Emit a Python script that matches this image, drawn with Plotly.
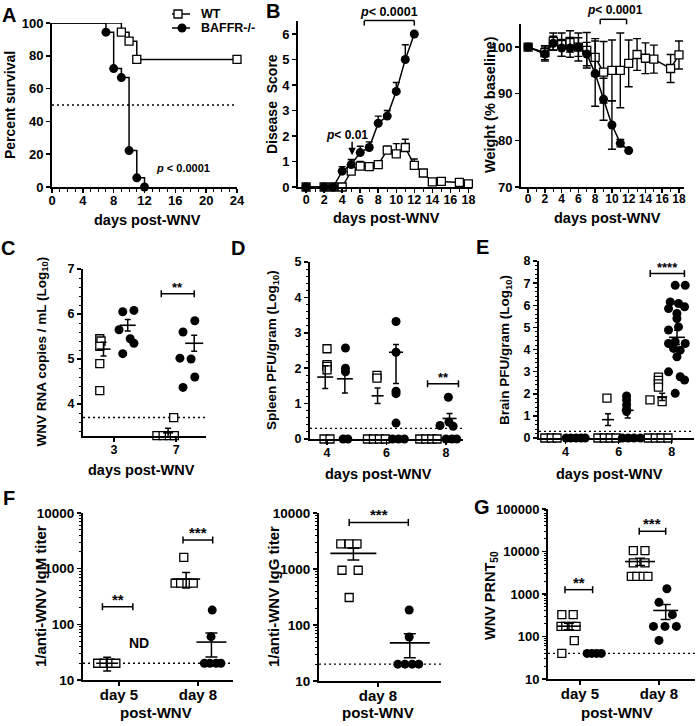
import math
import plotly.graph_objects as go

W, H = 697, 726
FONT = "Liberation Sans"
K = "#000000"

# ---------------- data ----------------
# A: Kaplan-Meier survival
A_wt_days = [0, 9, 10, 11, 24]
A_wt_surv = [100, 94.4, 88.9, 77.8, 77.8]
A_ko_days = [0, 7, 8, 9, 10, 11, 12]
A_ko_surv = [100, 94.4, 72.2, 66.7, 22.2, 5.6, 0]
A_ref = 50

# B: disease score and weight
B_wt_days = [0, 2, 3, 4, 5, 6, 7, 8, 9, 10, 11, 12, 13, 14, 15, 17, 18]
B_wt_score = [0, 0, 0, 0, 0.62, 0.82, 0.80, 0.88, 1.45, 1.30, 1.55, 0.85, 0.55, 0.20, 0.22, 0.18, 0.12]
B_wt_score_err = [0, 0, 0, 0, 0.30, 0.18, 0.15, 0.10, 0.15, 0.40, 0.32, 0.25, 0.10, 0.05, 0.05, 0.05, 0.05]
B_ko_days = [0, 2, 3, 4, 5, 6, 7, 8, 9, 10, 11, 12]
B_ko_score = [0, 0, 0, 0.62, 0.88, 1.35, 1.55, 2.50, 2.78, 3.75, 5.00, 6.00]
B_ko_score_err = [0, 0, 0, 0.18, 0.20, 0.25, 0.22, 0.28, 0.22, 0.35, 0.58, 0]
B_wt_weight = [100, 98.8, 101.2, 100.5, 101.2, 100.0, 99.3, 97.8, 94.6, 95.0, 95.0, 96.5, 98.4, 97.6, 97.4, 95.4, 98.3]
B_wt_weight_err = [0.5, 1.5, 1.8, 2.5, 2.3, 3.0, 3.8, 4.0, 6.6, 6.5, 8.0, 5.0, 3.4, 3.3, 3.0, 3.0, 3.0]
B_ko_weight = [100, 98.5, 100.8, 99.8, 99.8, 100.0, 98.5, 94.3, 88.8, 83.3, 79.4, 77.8]
B_ko_weight_err = [0.5, 1.5, 1.5, 1.8, 2.0, 2.0, 2.5, 7.0, 4.5, 5.2, 0.8, 0]

# C: serum viral RNA (log10)
C_days = ["3", "7"]
C_wt = [[5.45, 5.40, 5.28, 4.90, 4.30], [3.70, 3.30, 3.30, 3.30, 3.30]]
C_ko = [[6.05, 6.08, 5.65, 5.45, 5.35, 5.12], [5.85, 5.60, 5.02, 5.00, 4.60, 4.37]]
C_wt_mean = [5.22, 3.36]
C_wt_sem = [0.15, 0.10]
C_ko_mean = [5.75, 5.35]
C_ko_sem = [0.13, 0.18]
C_lod = 3.7

# D: spleen PFU (log10)
D_days = ["4", "6", "8"]
D_wt = [[2.55, 2.10, 2.05, 1.95, 0, 0], [1.80, 1.72, 0, 0, 0, 0], [0, 0, 0, 0]]
D_ko = [[2.57, 2.00, 1.90, 0, 0], [3.32, 2.45, 1.35, 1.28, 0.45, 0, 0, 0],
        [1.18, 0.38, 0.48, 0.36, 0, 0, 0]]
D_wt_mean = [1.75, 1.22, None]
D_wt_sem = [0.32, 0.22, 0]
D_ko_mean = [1.70, 2.45, 0.58]
D_ko_sem_up = [0.30, 0.22, 0.14]
D_ko_sem_dn = [0.40, 0.88, 0.14]
D_lod = 0.3

# E: brain PFU (log10)
E_days = ["4", "6", "8"]
E_wt = [[0, 0, 0], [1.80, 0, 0, 0, 0], [2.75, 2.60, 2.45, 2.30, 1.72, 1.64, 0, 0, 0, 0]]
E_ko = [[0, 0, 0, 0, 0], [1.90, 1.72, 1.50, 1.30, 1.20, 0, 0, 0, 0],
        [6.90, 6.90, 6.15, 6.08, 5.85, 5.93, 5.63, 5.40, 4.88, 5.02, 4.27, 4.35, 4.27, 4.05,
         3.97, 3.67, 2.99, 2.77, 2.62, 2.02]]
E_wt_mean = [None, 0.83, 1.86]
E_wt_sem = [0, 0.27, 0.16]
E_ko_mean = [None, 1.25, 4.55]
E_ko_sem = [0, 0.35, 0.32]
E_lod = 0.3

# F: IgM and IgG titers
F_days = ["day 5", "day 8"]
F_igm_wt = [[20, 20, 20, 20], [1600, 550, 550, 550, 550]]
F_igm_ko = [[], [180, 60, 20, 20, 20, 20]]
F_igm_wt_mean = [20, 650]
F_igm_wt_sem = [5.5, 200]
F_igm_ko_mean = [None, 48]
F_igm_ko_sem = [0, 22]
F_igg_days = ["day 8"]
F_igg_wt = [[2800, 2800, 2800, 950, 950, 310]]
F_igg_ko = [[185, 61, 20, 20, 20, 20]]
F_igg_wt_mean = [1900]
F_igg_wt_sem = [450]
F_igg_ko_mean = [48]
F_igg_ko_sem = [22]
F_lod = 20
F_ticks = [10, 100, 1000, 10000]

# G: PRNT50
G_days = ["day 5", "day 8"]
G_wt = [[327, 327, 173, 173, 173, 173, 80, 40], [10500, 10500, 5400, 5400, 2600, 2600, 2600, 2600]]
G_ko = [[40, 40, 40, 40], [1330, 637, 327, 173, 173, 173, 81]]
G_wt_mean = [175, 5800]
G_wt_sem = [30, 1100]
G_ko_mean = [None, 410]
G_ko_sem = [0, 160]
G_lod = 40
G_ticks = [10, 100, 1000, 10000, 100000]

# ---------------- layout (pixel geometry, jitter) ----------------
PANELS = {
    1: dict(px=(52, 237), xr=(0, 24), py=(187, 23), yr=(0, 100)),
    2: dict(px=(298, 472), xr=(-0.9, 18.4), py=(187, 21.25), yr=(0, 6.5)),
    3: dict(px=(521, 684), xr=(-0.85, 18.6), py=(187, 23.7), yr=(70, 105)),
    4: dict(px=(83, 206), xr=(-0.5, 1.48), py=(436, 269), yr=(3.29, 7)),
    5: dict(px=(310, 463), xr=(-0.286, 2.286), py=(439, 262), yr=(0, 5)),
    6: dict(px=(539, 694), xr=(-0.5, 2.42), py=(438, 261), yr=(0, 8)),
    7: dict(px=(83, 233), xr=(-0.456, 1.443), py=(680, 513), yr=(1, 4), log=True),
    8: dict(px=(319, 441), xr=(-0.983, 1.05), py=(681, 513), yr=(1, 4), log=True),
    9: dict(px=(548, 695), xr=(-0.405, 1.456), py=(679, 509), yr=(1, 5), log=True),
}

C_wt_jit = [[-0.23, -0.21, -0.23, -0.23, -0.23], [-0.04, -0.31, -0.21, -0.11, -0.03]]
C_ko_jit = [[0.14, 0.32, 0.08, 0.26, 0.32, 0.14], [0.30, 0.11, 0.06, 0.24, 0.30, 0.11]]
C_pos = dict(wt=[-0.17, -0.13], ko=[0.22, 0.29], hw_wt=[7, 5], hw_ko=[8, 9])

D_wt_jit = [[0, 0, 0, 0, -0.05, 0.05], [-0.16, -0.16, -0.32, -0.22, -0.12, -0.02],
            [-0.44, -0.34, -0.24, -0.15]]
D_ko_jit = [[0.31, 0.31, 0.31, 0.27, 0.35], [0.16, 0.16, 0.16, 0.16, 0.16, 0.10, 0.20, 0.30],
            [0.04, -0.10, 0.05, 0.12, 0.0, 0.10, 0.18]]
D_pos = dict(wt=[-0.03, -0.15, None], ko=[0.30, 0.16, 0.06], hw_wt=[8, 6, 6], hw_ko=[8, 7, 7])

E_wt_jit = [[-0.39, -0.27, -0.16], [-0.22, -0.39, -0.27, -0.16, -0.05],
            [-0.25, -0.25, -0.25, -0.25, -0.41, -0.18, -0.44, -0.31, -0.20, -0.07]]
E_ko_jit = [[0.01, 0.10, 0.20, 0.29, 0.37], [0.15, 0.15, 0.15, 0.15, 0.15, 0.07, 0.18, 0.29, 0.41],
            [0.066, 0.255, -0.028, 0.128, -0.06, 0.242, 0.098, 0.098, -0.06, 0.128, -0.06, 0.066,
             0.255, 0.034, 0.16, 0.098, -0.06, 0.16, 0.242, 0.066]]
E_pos = dict(wt=[None, -0.2, -0.18], ko=[None, 0.17, 0.10], hw_wt=[6, 6, 5], hw_ko=[6, 6, 8])

F_igm_wt_jit = [[-0.27, -0.19, -0.11, -0.04], [-0.18, -0.29, -0.22, -0.14, -0.06]]
F_igm_ko_jit = [[], [0.18, 0.165, 0.08, 0.15, 0.23, 0.29]]
F_igm_pos = dict(wt=[-0.15, -0.15], ko=[None, 0.17], hw_wt=[11, 14], hw_ko=[15, 15])
F_igg_wt_jit = [[-0.62, -0.48, -0.35, -0.60, -0.33, -0.48]]
F_igg_ko_jit = [[0.52, 0.52, 0.33, 0.45, 0.57, 0.68]]
F_igg_pos = dict(wt=[-0.41], ko=[0.53], hw_wt=[23], hw_ko=[20])

G_wt_jit = [[-0.23, -0.086, -0.24, -0.18, -0.11, -0.05, -0.072, -0.23],
            [-0.325, -0.177, -0.325, -0.177, -0.35, -0.28, -0.20, -0.14]]
G_ko_jit = [[0.09, 0.15, 0.21, 0.27], [0.10, 0.0, 0.17, -0.07, 0.076, 0.22, 0.0]]
G_pos = dict(wt=[-0.14, -0.24], ko=[None, 0.085], hw_wt=[12, 15], hw_ko=[12, 12.5])

SQ = dict(symbol="square", size=8, color="white", line=dict(color=K, width=1.3))
CI = dict(symbol="circle", size=9, color=K, line=dict(color=K, width=0))

fig = go.Figure(layout=dict(template="none"))


def names(k):
    return ("x" if k == 1 else f"x{k}", "y" if k == 1 else f"y{k}")


def scale(k):
    p = PANELS[k]
    return (p["px"][1] - p["px"][0]) / (p["xr"][1] - p["xr"][0])


def hpx(k):
    p = PANELS[k]
    return p["py"][0] - p["py"][1]


def xfrac(k, v):
    lo, hi = PANELS[k]["xr"]
    return (v - lo) / (hi - lo)


def yfrac(k, v):
    p = PANELS[k]
    lo, hi = p["yr"]
    if p.get("log"):
        v = math.log10(v)
    return (v - lo) / (hi - lo)


def add(k, **kw):
    xa, ya = names(k)
    kw.setdefault("showlegend", False)
    kw.setdefault("hoverinfo", "skip")
    fig.add_trace(go.Scatter(xaxis=xa, yaxis=ya, **kw))


def hline(k, yv, dash="2px,3px"):
    lo, hi = PANELS[k]["xr"]
    add(k, x=[lo, hi], y=[yv, yv], mode="lines", line=dict(color=K, width=1.4, dash=dash))


def dots(k, centers, groups, jits, marker):
    for c, vals, jit in zip(centers, groups, jits):
        if not vals:
            continue
        add(k, x=[c + j for j in jit], y=vals, mode="markers", marker=marker, cliponaxis=False)


def mean_sem(k, centers, means, up, dn, pos, hws, cap=3):
    sc = scale(k)
    for c, m, u, d, p, hw in zip(centers, means, up, dn, pos, hws):
        if m is None or p is None:
            continue
        xc = c + p
        w = hw / sc
        add(k, x=[xc - w, xc + w], y=[m, m], mode="lines", line=dict(color=K, width=1.6), cliponaxis=False)
        if u or d:
            add(k, x=[xc], y=[m], mode="markers", marker=dict(size=1, opacity=0),
                error_y=dict(type="data", symmetric=False, array=[u], arrayminus=[d],
                             color=K, thickness=1.5, width=cap))


def bracket(k, x0, x1, yv, text, size=13, cap_px=3.5, text_dy=-3):
    xa, ya = names(k)
    yf = yfrac(k, yv)
    c = cap_px / hpx(k)
    f0, f1 = xfrac(k, x0), xfrac(k, x1)
    ref = dict(xref=f"{xa} domain", yref=f"{ya} domain")
    ln = dict(color=K, width=1.5)
    fig.add_shape(type="line", x0=f0, x1=f1, y0=yf, y1=yf, line=ln, **ref)
    for f in (f0, f1):
        fig.add_shape(type="line", x0=f, x1=f, y0=yf - c, y1=yf + c, line=ln, **ref)
    if text:
        fig.add_annotation(x=(f0 + f1) / 2, y=yf, text=text, showarrow=False, xanchor="center",
                           yanchor="bottom", yshift=text_dy,
                           font=dict(family=FONT, size=size, color=K, weight="bold"), **ref)


def ptext(x, y, text, size, angle=0, xanchor="center"):
    fig.add_annotation(x=x / W, y=1 - y / H, xref="paper", yref="paper", text=text, showarrow=False,
                       textangle=angle, xanchor=xanchor, yanchor="middle",
                       font=dict(family=FONT, size=size, color=K, weight="bold"))


# ---------------- Panel A ----------------
hline(1, A_ref)
add(1, x=A_wt_days, y=A_wt_surv, mode="lines", line=dict(color=K, width=1.5, shape="hv"))
add(1, x=A_ko_days, y=A_ko_surv, mode="lines", line=dict(color=K, width=1.5, shape="hv"))
add(1, x=A_wt_days[1:], y=A_wt_surv[1:], mode="markers", marker=SQ, cliponaxis=False)
add(1, x=A_ko_days[1:], y=A_ko_surv[1:], mode="markers", marker=CI, cliponaxis=False)

# ---------------- Panel B: disease score ----------------
add(2, x=B_wt_days, y=B_wt_score, mode="lines+markers", line=dict(color=K, width=1.5), marker=SQ,
    error_y=dict(type="data", symmetric=False, array=B_wt_score_err, arrayminus=[0] * len(B_wt_score),
                 color=K, thickness=1.4, width=3.5), cliponaxis=False)
add(2, x=B_ko_days, y=B_ko_score, mode="lines+markers", line=dict(color=K, width=1.5), marker=CI,
    error_y=dict(type="data", symmetric=False, array=B_ko_score_err, arrayminus=[0] * len(B_ko_score),
                 color=K, thickness=1.4, width=3.5), cliponaxis=False)

# ---------------- Panel B: weight ----------------
add(3, x=B_wt_days, y=B_wt_weight, mode="lines+markers", line=dict(color=K, width=1.5), marker=SQ,
    error_y=dict(type="data", array=B_wt_weight_err, color=K, thickness=1.4, width=4), cliponaxis=False)
add(3, x=B_ko_days, y=B_ko_weight, mode="lines+markers", line=dict(color=K, width=1.5), marker=CI,
    error_y=dict(type="data", array=B_ko_weight_err, color=K, thickness=1.4, width=4), cliponaxis=False)

# ---------------- Panel C ----------------
cC = list(range(len(C_days)))
hline(4, C_lod)
dots(4, cC, C_wt, C_wt_jit, SQ)
dots(4, cC, C_ko, C_ko_jit, CI)
mean_sem(4, cC, C_wt_mean, C_wt_sem, C_wt_sem, C_pos["wt"], C_pos["hw_wt"])
mean_sem(4, cC, C_ko_mean, C_ko_sem, C_ko_sem, C_pos["ko"], C_pos["hw_ko"])
bracket(4, 1 - 0.24, 1 + 0.29, 6.45, "**")

# ---------------- Panel D ----------------
cD = list(range(len(D_days)))
hline(5, D_lod)
dots(5, cD, D_wt, D_wt_jit, SQ)
dots(5, cD, D_ko, D_ko_jit, CI)
mean_sem(5, cD, D_wt_mean, D_wt_sem, D_wt_sem, D_pos["wt"], D_pos["hw_wt"])
mean_sem(5, cD, D_ko_mean, D_ko_sem_up, D_ko_sem_dn, D_pos["ko"], D_pos["hw_ko"])
bracket(5, 2 - 0.31, 2 + 0.21, 1.56, "**")

# ---------------- Panel E ----------------
cE = list(range(len(E_days)))
hline(6, E_lod)
dots(6, cE, E_wt, E_wt_jit, SQ)
dots(6, cE, E_ko, E_ko_jit, CI)
mean_sem(6, cE, E_wt_mean, E_wt_sem, E_wt_sem, E_pos["wt"], E_pos["hw_wt"])
mean_sem(6, cE, E_ko_mean, E_ko_sem, E_ko_sem, E_pos["ko"], E_pos["hw_ko"])
bracket(6, 2 - 0.405, 2 + 0.24, 7.43, "****")

# ---------------- Panel F: IgM ----------------
cF = list(range(len(F_days)))
hline(7, F_lod)
dots(7, cF, F_igm_wt, F_igm_wt_jit, SQ)
dots(7, cF, F_igm_ko, F_igm_ko_jit, CI)
mean_sem(7, cF, F_igm_wt_mean, F_igm_wt_sem, F_igm_wt_sem, F_igm_pos["wt"], F_igm_pos["hw_wt"], cap=4)
mean_sem(7, cF, F_igm_ko_mean, F_igm_ko_sem, F_igm_ko_sem, F_igm_pos["ko"], F_igm_pos["hw_ko"], cap=6)
bracket(7, -0.21, 0.175, 207, "**", size=15)
bracket(7, 1 - 0.19, 1 + 0.186, 3270, "***", size=15)
fig.add_annotation(x=xfrac(7, 0.25), y=yfrac(7, 31), xref="x7 domain", yref="y7 domain", text="ND",
                   showarrow=False, font=dict(family=FONT, size=14, color=K, weight="bold"))

# ---------------- Panel F: IgG ----------------
cG1 = list(range(len(F_igg_days)))
hline(8, F_lod)
dots(8, cG1, F_igg_wt, F_igg_wt_jit, SQ)
dots(8, cG1, F_igg_ko, F_igg_ko_jit, CI)
mean_sem(8, cG1, F_igg_wt_mean, F_igg_wt_sem, F_igg_wt_sem, F_igg_pos["wt"], F_igg_pos["hw_wt"], cap=6)
mean_sem(8, cG1, F_igg_ko_mean, F_igg_ko_sem, F_igg_ko_sem, F_igg_pos["ko"], F_igg_pos["hw_ko"], cap=6)
bracket(8, -0.48, 0.505, 6800, "***", size=15)

# ---------------- Panel G ----------------
cG = list(range(len(G_days)))
hline(9, G_lod)
dots(9, cG, G_wt, G_wt_jit, SQ)
dots(9, cG, G_ko, G_ko_jit, CI)
mean_sem(9, cG, G_wt_mean, G_wt_sem, G_wt_sem, G_pos["wt"], G_pos["hw_wt"], cap=5)
mean_sem(9, cG, G_ko_mean, G_ko_sem, G_ko_sem, G_pos["ko"], G_pos["hw_ko"], cap=5)
bracket(9, -0.19, 0.16, 1265, "**", size=15)
bracket(9, 1 - 0.25, 1 + 0.085, 29900, "***", size=15)

# ---------------- Legend (overlay in pixel space) ----------------
leg = [("WT", 14, SQ, 178), ("BAFFR-/-", 28, CI, 182)]
for label, yy, mk, mx in leg:
    add(10, x=[172, 190], y=[yy, yy], mode="lines", line=dict(color=K, width=1.5))
    add(10, x=[mx], y=[yy], mode="markers", marker=mk)
    ptext(199, yy, label, 12.5, xanchor="left")

# ---------------- Axes ----------------
def axis_base(size):
    return dict(showline=True, linewidth=2, linecolor=K, ticks="outside", ticklen=4, tickwidth=1.5,
                tickcolor=K, showgrid=False, zeroline=False, fixedrange=True, automargin=False,
                tickangle=0, tickfont=dict(family=FONT, size=size, color=K, weight="bold"))


def minor_lin(d):
    return dict(ticks="outside", ticklen=2.5, tickwidth=1, tickcolor=K, dtick=d, showgrid=False)


def log_axis(vals):
    return dict(type="log", tickmode="array", tickvals=vals, ticktext=[str(v) for v in vals],
                minor=dict(ticks="outside", ticklen=2.5, tickwidth=1, tickcolor=K, dtick="D1", showgrid=False))


xcfg = {
    1: dict(tickmode="linear", tick0=0, dtick=4, minor=minor_lin(1)),
    2: dict(tickmode="linear", tick0=0, dtick=2, minor=minor_lin(1)),
    3: dict(tickmode="linear", tick0=0, dtick=2, minor=minor_lin(1)),
    4: dict(tickmode="array", tickvals=cC, ticktext=C_days),
    5: dict(tickmode="array", tickvals=cD, ticktext=D_days),
    6: dict(tickmode="array", tickvals=cE, ticktext=E_days),
    7: dict(tickmode="array", tickvals=cF, ticktext=F_days),
    8: dict(tickmode="array", tickvals=cG1, ticktext=F_igg_days),
    9: dict(tickmode="array", tickvals=cG, ticktext=G_days),
}
ycfg = {
    1: dict(tickmode="linear", tick0=0, dtick=20),
    2: dict(tickmode="linear", tick0=0, dtick=1),
    3: dict(tickmode="linear", tick0=70, dtick=10),
    4: dict(tickmode="linear", tick0=0, dtick=1, minor=minor_lin(0.2)),
    5: dict(tickmode="linear", tick0=0, dtick=1, minor=minor_lin(0.2)),
    6: dict(tickmode="linear", tick0=0, dtick=1, minor=minor_lin(0.2)),
    7: log_axis(F_ticks),
    8: log_axis(F_ticks),
    9: log_axis(G_ticks),
}
tsize_x = {1: 13, 2: 12.5, 3: 12, 4: 12.5, 5: 12.5, 6: 12.5, 7: 15, 8: 15, 9: 15}
tsize_y = {1: 13, 2: 13, 3: 13, 4: 12.5, 5: 12.5, 6: 12.5, 7: 13.5, 8: 13.5, 9: 13}
xstand = {1: -4, 2: -4, 3: -4, 4: -3, 5: -3, 6: -3, 7: -4, 8: -4, 9: -4}

layout = dict(width=W, height=H, margin=dict(l=0, r=0, t=0, b=0, pad=0), paper_bgcolor="white",
              plot_bgcolor="rgba(0,0,0,0)", showlegend=False)
for k, p in PANELS.items():
    xa, ya = names(k)
    xd = axis_base(tsize_x[k])
    xd.update(domain=[p["px"][0] / W, p["px"][1] / W], range=list(p["xr"]), anchor=ya,
              ticklabelstandoff=xstand[k])
    xd.update(xcfg[k])
    yd = axis_base(tsize_y[k])
    yd.update(domain=[1 - p["py"][0] / H, 1 - p["py"][1] / H], range=list(p["yr"]), anchor=xa)
    yd.update(ycfg[k])
    layout["xaxis" if k == 1 else f"xaxis{k}"] = xd
    layout["yaxis" if k == 1 else f"yaxis{k}"] = yd
layout["xaxis10"] = dict(domain=[0, 1], range=[0, W], visible=False, anchor="y10", fixedrange=True,
                         automargin=False)
layout["yaxis10"] = dict(domain=[0, 1], range=[H, 0], visible=False, anchor="x10", fixedrange=True,
                         automargin=False)
fig.update_layout(**layout)

# ---------------- Titles, labels, p-values ----------------
ptext(10, 105, "Percent survival", 14, angle=-90)
ptext(147, 220, "days post-WNV", 14.5)
ptext(272, 104, "Disease\u00a0 Score", 14, angle=-90)
ptext(387, 218, "days post-WNV", 14.5)
ptext(490, 105, "Weight (% baseline)", 14.5, angle=-90)
ptext(607, 218, "days post-WNV", 14.5)
ptext(41.5, 352, "WNV RNA copies / mL (Log<sub>10</sub>)", 13.5, angle=-90)
ptext(141, 470, "days post-WNV", 14.5)
ptext(272, 350, "Spleen PFU/gram (Log<sub>10</sub>)", 13.5, angle=-90)
ptext(378, 474, "days post-WNV", 14.5)
ptext(505, 350, "Brain PFU/gram (Log<sub>10</sub>)", 13.5, angle=-90)
ptext(609, 474, "days post-WNV", 14.5)
ptext(40, 596, "1/anti-WNV IgM titer", 15, angle=-90)
ptext(156, 712, "post-WNV", 15)
ptext(273, 597, "1/anti-WNV IgG titer", 15, angle=-90)
ptext(378, 712, "post-WNV", 15)
ptext(491, 596, "WNV PRNT<sub>50</sub>", 14.5, angle=-90)
ptext(617, 712, "post-WNV", 15)

ptext(183, 168, "<i>p</i> < 0.0001", 11)
ptext(389, 12, "<i>p</i>< 0.0001", 12.5)
ptext(347, 135, "<i>p</i>< 0.01", 12)
ptext(615, 10, "<i>p</i>< 0.0001", 12)

# p-value brackets (B panels, above the plot area)
for k, x0, x1, ypx in [(2, 6.45, 12.0, 20.6), (3, 8.6, 11.75, 19.3)]:
    xa, ya = names(k)
    p = PANELS[k]
    yf = (p["py"][0] - ypx) / hpx(k)
    c = 5 / hpx(k)
    ref = dict(xref=xa, yref=f"{ya} domain")
    ln = dict(color=K, width=1.5)
    fig.add_shape(type="line", x0=x0, x1=x1, y0=yf, y1=yf, line=ln, **ref)
    for xx in (x0, x1):
        fig.add_shape(type="line", x0=xx, x1=xx, y0=yf - c, y1=yf, line=ln, **ref)

# arrow for p<0.01
fig.add_annotation(x=5.1, y=1.25, xref="x2", yref="y2", text="", showarrow=True, ax=0, ay=-15,
                   arrowhead=2, arrowsize=1, arrowwidth=1.5, arrowcolor=K)

# panel letters
for letter, lx, ly in [("A", 9, 15), ("B", 273, 11), ("C", 8, 248), ("D", 238, 248),
                       ("E", 482, 247), ("F", 9, 498), ("G", 482, 507)]:
    ptext(lx, ly, letter, 20)

fig.write_html("out.html", config={"displayModeBar": False, "staticPlot": True},
               post_script="document.body.style.margin='0';document.body.style.padding='0';"
                           "document.documentElement.style.overflow='hidden';")
